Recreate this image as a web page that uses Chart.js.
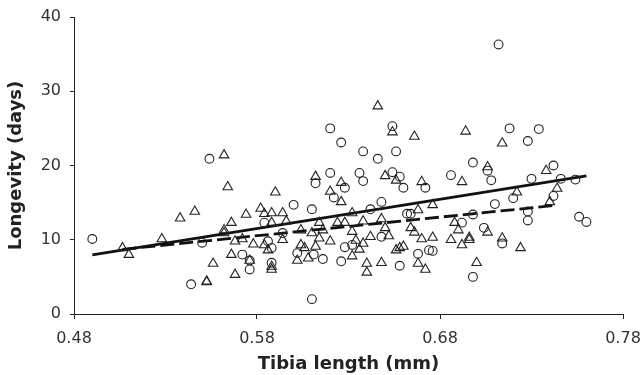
<!DOCTYPE html>
<html>
<head>
<meta charset="utf-8">
<script src="https://cdn.jsdelivr.net/npm/chart.js@4.4.1/dist/chart.umd.min.js"></script>
<style>
  html, body { margin: 0; padding: 0; background: #fff; }
  #wrap { width: 643px; height: 375px; }
</style>
</head>
<body>
<div id="wrap"><canvas id="chart" width="643" height="375"></canvas></div>
<script>
// circles
const circleX = [0.490, 0.544, 0.550, 0.554, 0.572, 0.576, 0.576, 0.584, 0.586, 0.588, 0.588, 0.594, 0.600, 0.602,
  0.610, 0.610, 0.612, 0.611, 0.616, 0.620, 0.620, 0.622, 0.626, 0.626, 0.628, 0.628, 0.632, 0.636, 0.638, 0.638,
  0.642, 0.646, 0.648, 0.648, 0.654, 0.654, 0.656, 0.658, 0.660, 0.658, 0.662, 0.664, 0.668, 0.672, 0.674, 0.676,
  0.686, 0.692, 0.698, 0.698, 0.698, 0.704, 0.706, 0.708, 0.710, 0.712, 0.714, 0.718, 0.720, 0.728, 0.728, 0.728,
  0.730, 0.734, 0.742, 0.742, 0.746, 0.754, 0.756, 0.760];
const circleY = [10.1, 4.0, 9.6, 20.9, 8.0, 7.2, 6.0, 12.3, 9.8, 8.9, 6.9, 10.9, 14.7, 8.2,
  14.1, 2.0, 17.6, 8.0, 7.4, 25.0, 19.0, 15.7, 23.1, 7.1, 17.0, 9.0, 9.3, 19.0, 21.9, 17.9,
  14.1, 20.9, 15.1, 10.4, 25.3, 19.1, 21.9, 18.5, 17.0, 6.5, 13.5, 13.5, 8.1, 17.0, 8.6, 8.5,
  18.7, 12.3, 20.4, 13.4, 5.0, 11.6, 19.3, 18.0, 14.8, 36.3, 9.5, 25.0, 15.6, 23.3, 13.8, 12.6,
  18.2, 24.9, 20.0, 15.9, 18.2, 18.1, 13.1, 12.4];

// triangles
const triX = [0.5065, 0.510, 0.528, 0.538, 0.546, 0.5525, 0.5525, 0.556, 0.562, 0.562, 0.562, 0.564, 0.566, 0.566,
  0.568, 0.568, 0.572, 0.574, 0.576, 0.578, 0.582, 0.584, 0.584, 0.586, 0.588, 0.588, 0.588, 0.588, 0.590, 0.594,
  0.594, 0.596, 0.602, 0.604, 0.604, 0.606, 0.608, 0.610, 0.612, 0.612, 0.614, 0.616, 0.614, 0.620, 0.620, 0.624,
  0.626, 0.626, 0.628, 0.632, 0.632, 0.632, 0.634, 0.636, 0.638, 0.638, 0.640, 0.640, 0.642, 0.646, 0.648, 0.648,
  0.650, 0.650, 0.652, 0.654, 0.656, 0.656, 0.658, 0.660, 0.664, 0.666, 0.666, 0.668, 0.668, 0.670, 0.670, 0.672,
  0.676, 0.676, 0.686, 0.688, 0.690, 0.692, 0.692, 0.694, 0.696, 0.696, 0.700, 0.706, 0.706, 0.714, 0.714, 0.722,
  0.724, 0.738, 0.740, 0.744];
const triY = [8.9, 8.0, 10.1, 12.9, 13.8, 4.4, 4.3, 6.8, 21.4, 11.3, 10.9, 17.1, 12.3, 8.0,
  5.3, 9.8, 10.1, 13.4, 7.2, 9.4, 14.2, 13.5, 9.3, 8.6, 13.6, 12.3, 6.4, 6.0, 16.4, 13.6,
  10.0, 12.5, 7.2, 11.3, 9.3, 8.9, 7.5, 10.9, 18.5, 9.1, 12.3, 11.3, 10.2, 16.5, 9.8, 12.3,
  17.7, 15.1, 12.3, 13.6, 11.1, 7.8, 9.9, 8.7, 12.5, 9.5, 6.8, 5.6, 10.4, 28.0, 12.8, 6.9,
  18.6, 11.6, 10.5, 24.5, 18.0, 8.6, 8.9, 9.1, 11.6, 23.9, 11.0, 14.0, 6.8, 17.8, 10.1, 6.0,
  14.7, 10.3, 10.0, 12.3, 11.3, 17.8, 9.3, 24.6, 10.3, 10.0, 6.9, 19.8, 11.0, 23.0, 10.2, 16.4,
  8.9, 19.3, 15.1, 16.9];

// fitted lines (end points)
const solidX = [0.490, 0.760];
const solidY = [7.96, 18.6];
const dashX = [0.5065, 0.742];
const dashY = [8.7, 14.6];

const xTicks = [0.48, 0.58, 0.68, 0.78];
const yTicks = [0, 10, 20, 30, 40];

const pts = (xs, ys) => xs.map((x, i) => ({ x: x, y: ys[i] }));

const ink = '#222';
const fam = 'Verdana, "DejaVu Sans", sans-serif';
const tickFont = { family: fam, size: 16 };

new Chart(document.getElementById('chart'), {
  type: 'scatter',
  data: {
    datasets: [
      {
        data: pts(circleX, circleY),
        pointStyle: 'circle',
        pointRadius: 4.4,
        pointBorderWidth: 1.1,
        pointBorderColor: ink,
        pointBackgroundColor: 'rgba(0,0,0,0)'
      },
      {
        data: pts(triX, triY),
        pointStyle: 'triangle',
        pointRadius: 5.5,
        pointBorderWidth: 1.1,
        pointBorderColor: ink,
        pointBackgroundColor: 'rgba(0,0,0,0)'
      },
      {
        type: 'line',
        data: pts(solidX, solidY),
        borderColor: '#111',
        borderWidth: 2.8,
        pointRadius: 0,
        fill: false
      },
      {
        type: 'line',
        data: pts(dashX, dashY),
        borderColor: '#111',
        borderWidth: 2.8,
        borderDash: [14, 5],
        pointRadius: 0,
        fill: false
      }
    ]
  },
  options: {
    responsive: false,
    animation: false,
    devicePixelRatio: 1,
    layout: { padding: { top: 17, right: 20, left: 0, bottom: 0 } },
    plugins: {
      legend: { display: false },
      tooltip: { enabled: false }
    },
    scales: {
      x: {
        type: 'linear',
        min: 0.48,
        max: 0.78,
        afterBuildTicks: (scale) => { scale.ticks = xTicks.map(v => ({ value: v })); },
        afterFit: (scale) => {
          scale.height = 61;
          // let the end labels hang past the plot edges like the original
          scale.paddingLeft = 0;
          scale.paddingRight = 0;
        },
        grid: { drawOnChartArea: false, drawTicks: true, tickLength: 5, color: ink },
        border: { display: true, color: ink, width: 1 },
        ticks: {
          color: '#333',
          font: tickFont,
          padding: 10,
          maxRotation: 0,
          callback: (v) => Number(v).toFixed(2)
        },
        title: { display: true, text: 'Tibia length (mm)', color: '#222',
          font: { family: fam, size: 18, weight: 'bold' }, padding: { top: 0, bottom: 0 } }
      },
      y: {
        type: 'linear',
        min: 0,
        max: 40,
        afterBuildTicks: (scale) => { scale.ticks = yTicks.map(v => ({ value: v })); },
        afterFit: (scale) => {
          scale.width = 74;
          scale.paddingTop = 0;
          scale.paddingBottom = 0;
        },
        grid: { drawOnChartArea: false, drawTicks: true, tickLength: 4, color: ink },
        border: { display: true, color: ink, width: 1 },
        ticks: { color: '#333', font: tickFont, padding: 9 },
        title: { display: true, text: 'Longevity (days)', color: '#222',
          font: { family: fam, size: 18, weight: 'bold' }, padding: { top: 6, bottom: 0 } }
      }
    }
  }
});
</script>
</body>
</html>
